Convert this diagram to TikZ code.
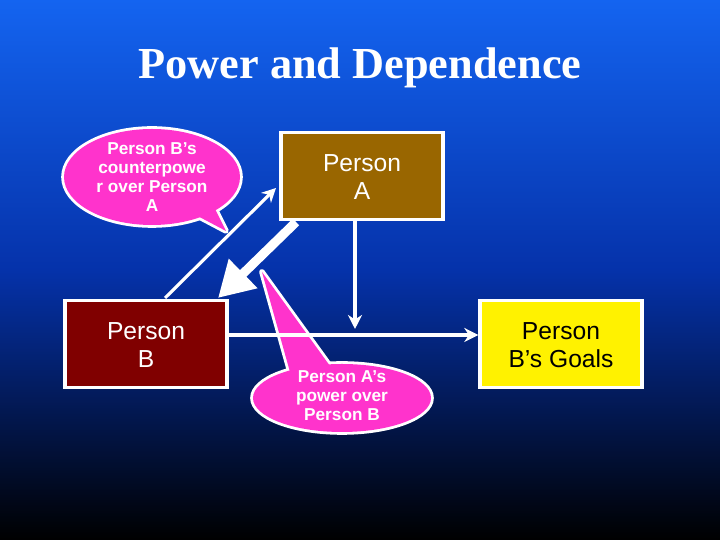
\documentclass[tikz,border=0pt]{standalone}
\usepackage{fontspec}
\setmainfont{Liberation Serif}
\newfontfamily\arial{Liberation Sans}
\usetikzlibrary{arrows.meta,shapes.geometric}
\definecolor{pinkc}{RGB}{255,51,204}
\definecolor{brownc}{RGB}{153,102,0}
\definecolor{redc}{RGB}{128,0,0}
\begin{document}
\begin{tikzpicture}[x=0.01cm,y=-0.01cm,
  box/.style={draw=white,line width=0.9pt,minimum width=1.62cm,minimum height=0.87cm,inner sep=0pt},
  btext/.style={align=center,font=\arial\fontsize{7}{8}\selectfont,inner sep=0pt},
  ctext/.style={align=center,font=\arial\bfseries\fontsize{4.9}{5.4}\selectfont,text=white,inner sep=0pt},
  conn/.style={white,line width=0.9pt,-{Stealth[length=4pt,width=4pt]}}]
\shade[top color={rgb,255:red,20;green,100;blue,240},bottom color=black,middle color={rgb,255:red,5;green,50;blue,170}] (0,0) rectangle (720,540);
\useasboundingbox (0,0) rectangle (720,540);
\node[text=white,font=\bfseries\fontsize{12.6}{14}\selectfont] (title) at (360,68) {Power and Dependence};
% callouts
\draw[white,line width=1.6pt,fill=white] (152,177) ellipse [x radius=88,y radius=48];
\draw[white,line width=1.6pt,fill=white,line join=round] (190,212)--(226,231)--(212,203)--cycle;
\fill[pinkc] (152,177) ellipse [x radius=88,y radius=48];
\fill[pinkc] (190,212)--(226,231)--(212,203)--cycle;
\draw[white,line width=1.6pt,fill=white] (342,398) ellipse [x radius=89,y radius=34];
\draw[white,line width=1.6pt,fill=white,line join=round] (290,372)--(262,272)--(330,366)--cycle;
\fill[pinkc] (342,398) ellipse [x radius=89,y radius=34];
\fill[pinkc] (290,372)--(262,272)--(330,366)--cycle;
\node[ctext] (cB) at (152,177) {Person B’s\\counterpowe\\r over Person\\A};
\node[ctext] (cA) at (342,396) {Person A’s\\power over\\Person B};
% boxes
\node[box,fill=brownc] (A) at (362,176) {};
\node[btext,text=white] (At) at (362,177) {Person\\A};
\node[box,fill=redc] (B) at (146,344) {};
\node[btext,text=white] (Bt) at (146,345) {Person\\B};
\node[box,fill=yellow] (G) at (561,344) {};
\node[btext,text=black] (Gt) at (561,345) {Person\\B’s Goals};
% connectors
\coordinate (bs) at (165,298);
\coordinate (ae) at (276,188);
\draw[conn] (bs)--(ae);
\coordinate (as) at (296,222);
\coordinate (be) at (218,298);
\draw[white,line width=2.6pt,-{Triangle[length=10pt,width=11pt]}] (as)--(be);
\coordinate (vt) at (355,220);
\coordinate (vb) at (355,329);
\draw[conn] (vt)--(vb);
\draw[conn] (B.east |- 0,335)--(G.west |- 0,335);
\end{tikzpicture}
\end{document}
